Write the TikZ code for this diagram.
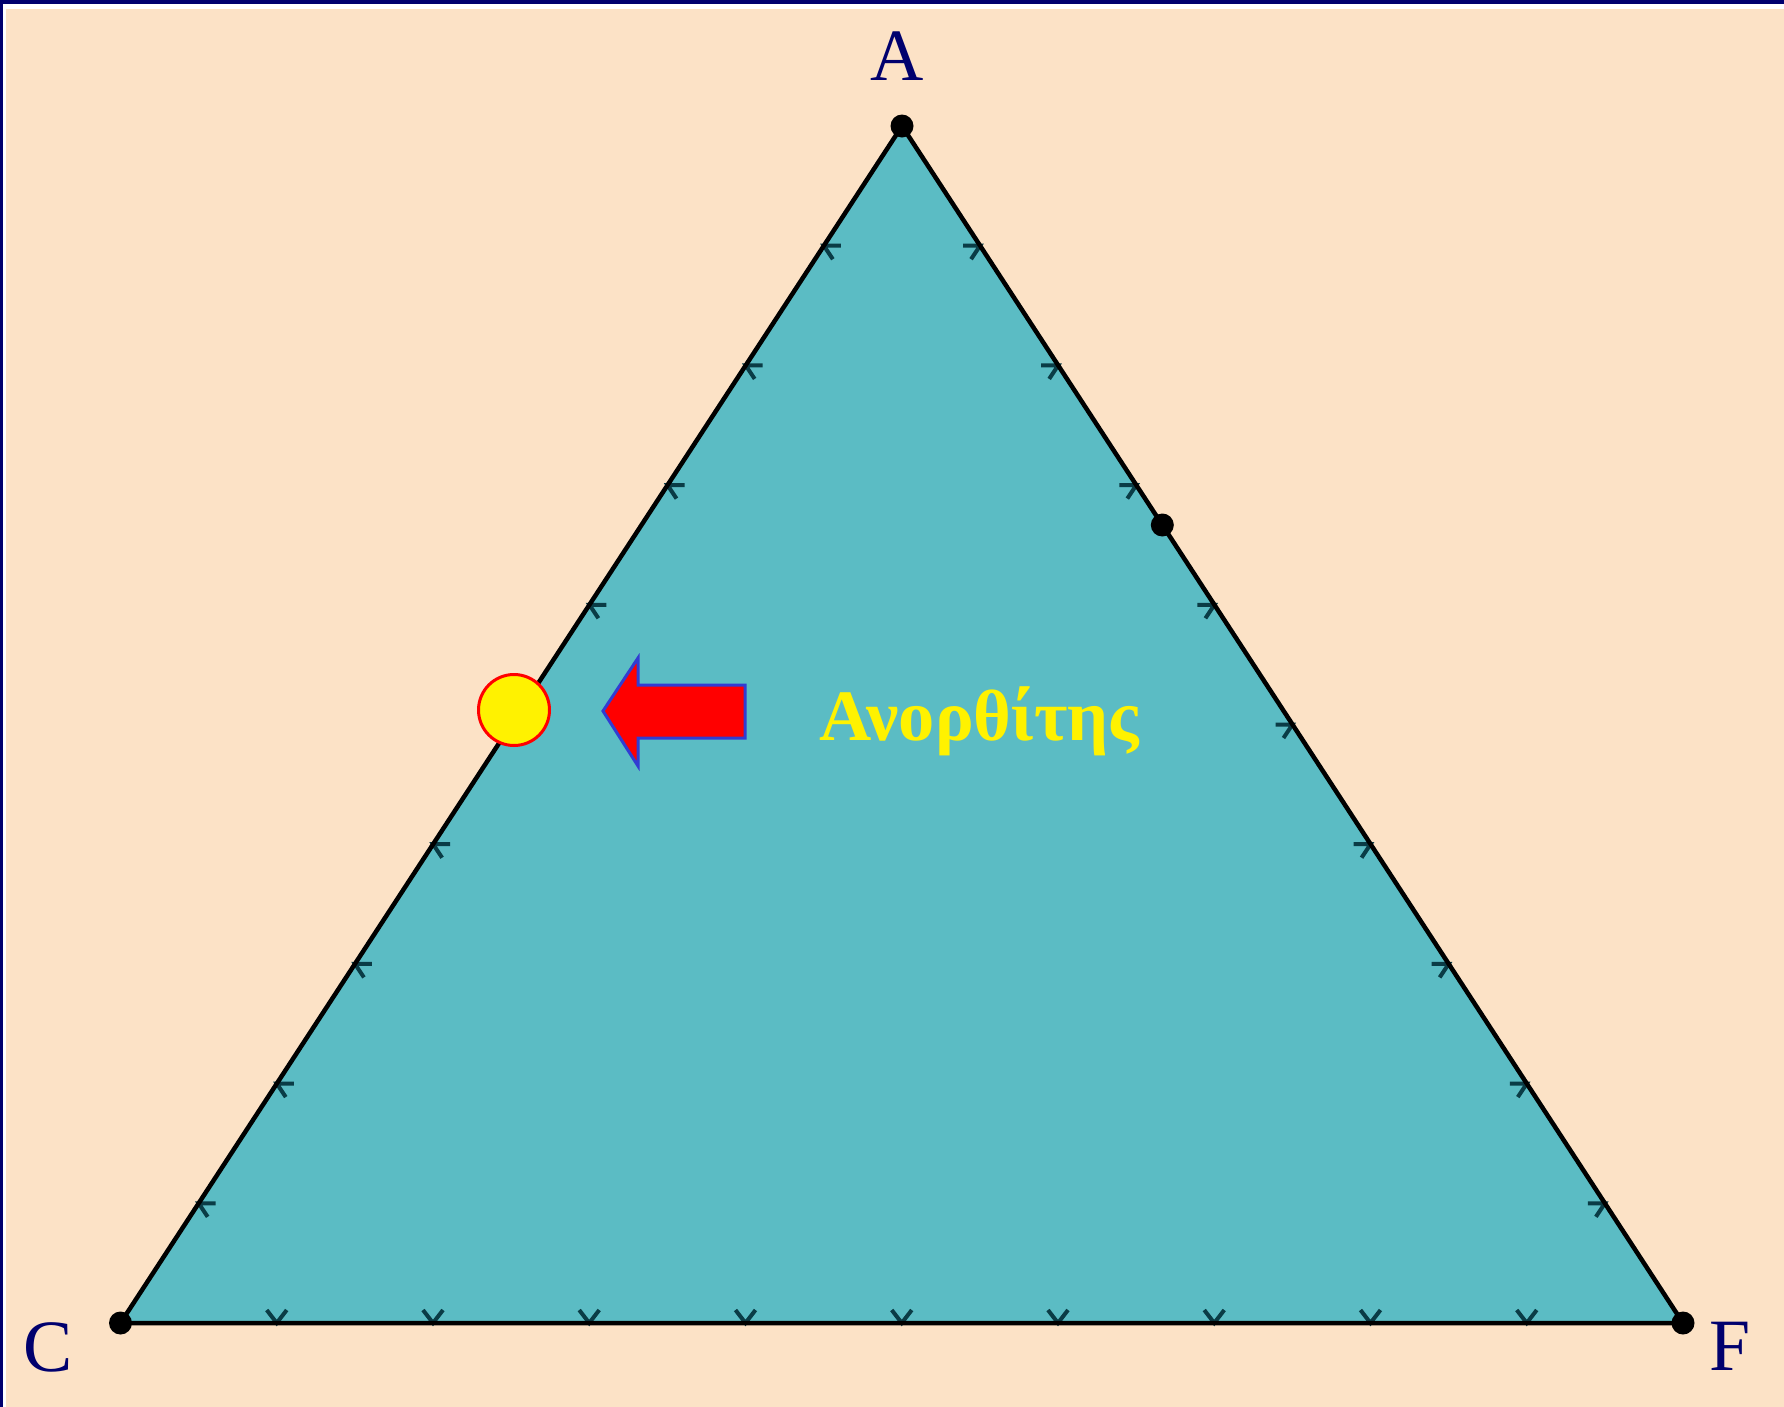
\documentclass[tikz,border=0pt]{standalone}
\usepackage{fontspec}
\setmainfont{Liberation Serif}
\usetikzlibrary{calc}
\definecolor{peach}{RGB}{252,226,198}
\definecolor{tealfill}{RGB}{91,188,196}
\definecolor{navy}{RGB}{0,0,110}
\definecolor{tickcol}{RGB}{10,60,70}
\definecolor{arrowblue}{RGB}{50,60,210}
\tikzset{
  vdot/.style={circle,fill=black,inner sep=0pt,minimum size=2.3mm},
  vlabel/.style={text=navy,font=\fontsize{21}{24}\selectfont,inner sep=0pt},
  tickarm/.style={draw=tickcol,line width=0.4mm},
  side/.style={draw=black,line width=0.45mm}
}
\begin{document}
\begin{tikzpicture}[x=0.1mm,y=-0.1mm]
\useasboundingbox (0,0) rectangle (1784,1407);
% background and frame
\fill[peach] (0,0) rectangle (1784,1407);
\fill[white] (0,0) rectangle (1784,9);
\fill[white] (0,0) rectangle (6,1407);
\fill[navy] (0,0) rectangle (1784,4);
\fill[navy] (0,0) rectangle (3,1407);
% vertices
\coordinate (A) at (902,126);
\coordinate (C) at (120.5,1323);
\coordinate (F) at (1683,1323);
% triangle
\fill[tealfill] (A) -- (C) -- (F) -- cycle;
% ticks
\foreach \i in {1,...,9}{
  \coordinate (L\i) at ($(C)!\i/10!(A)$);
  \draw[tickarm] ($(L\i)+(17,0)$) -- (L\i) -- ($(L\i)+(9,13.5)$);
  \coordinate (B\i) at ($(C)!\i/10!(F)$);
  \draw[tickarm] ($(B\i)+(-10,-13)$) -- (B\i) -- ($(B\i)+(10,-13)$);
  \coordinate (R\i) at ($(A)!\i/10!(F)$);
  \draw[tickarm] ($(R\i)+(-17,0)$) -- (R\i) -- ($(R\i)+(-9,13.5)$);
}
\draw[side,line join=round] (A) -- (C) -- (F) -- cycle;
% dots
\node[vdot] (dA) at (A) {};
\node[vdot] (dC) at (C) {};
\node[vdot] (dF) at (F) {};
\node[vdot] (dP) at ($(A)!1/3!(F)$) {};
% labels
\node[vlabel] (lA) at (897,56) {A};
\node[vlabel] (lC) at (48,1347) {C};
\node[vlabel] (lF) at (1730,1346) {F};
% yellow circle
\node[circle,fill=yellow,draw=red,line width=0.3mm,minimum size=7.1mm,inner sep=0pt] (Y) at (514,710) {};
% red arrow
\draw[fill=red,draw=arrowblue,line width=0.3mm,line join=miter]
  (603,711) -- (638,658) -- (638,685) -- (745,685) -- (745,738) -- (638,738) -- (638,766) -- cycle;
% mineral label
\node[text=yellow,font=\fontsize{20.6}{24}\selectfont\bfseries,anchor=base west,inner sep=0pt] (name) at (819,740) {Ανορθίτης};
\end{tikzpicture}
\end{document}
